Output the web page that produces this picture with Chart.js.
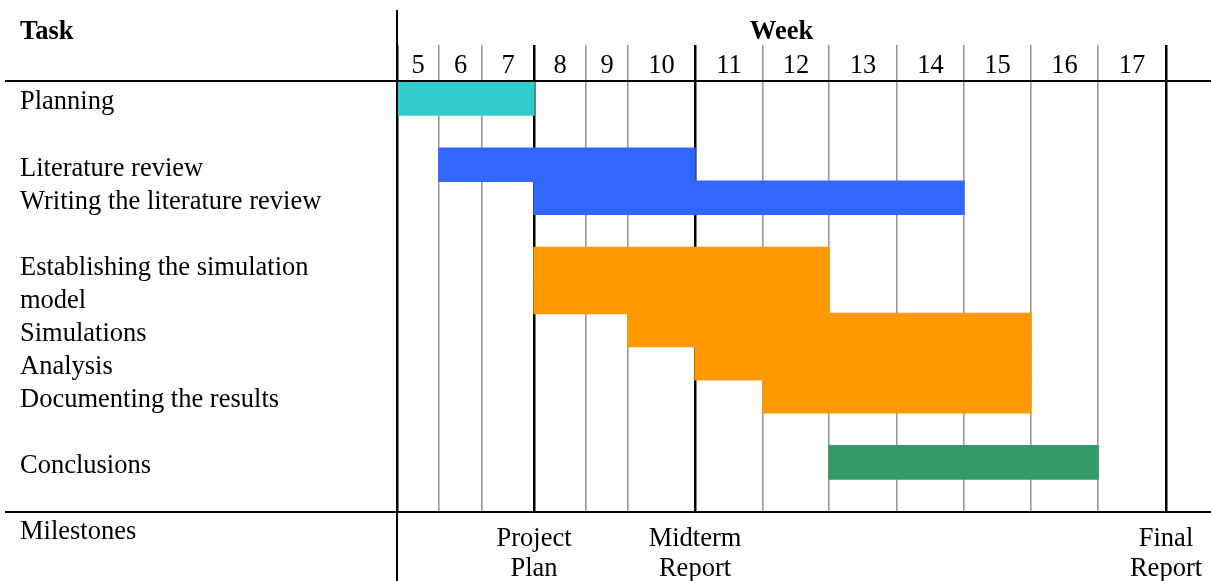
<!DOCTYPE html>
<html>
<head>
<meta charset="utf-8">
<title>Project schedule</title>
<script src="https://cdn.jsdelivr.net/npm/chart.js@4/dist/chart.umd.min.js"></script>
<style>
  html, body { margin: 0; padding: 0; background: #fff; }
  #wrap { width: 1211px; height: 581px; }
</style>
</head>
<body>
<div id="wrap"><canvas id="gantt"></canvas></div>
<script>
const weeks = [5, 6, 7, 8, 9, 10, 11, 12, 13, 14, 15, 16, 17];
const tasks = ['Planning', 'Literature review', 'Writing the literature review',
    ['Establishing the simulation', 'model'], 'Simulations', 'Analysis',
    'Documenting the results', 'Conclusions'];
const startWeek = [5, 6, 8, 8, 10, 11, 12, 13];
const endWeek = [7, 10, 14, 12, 15, 15, 15, 16];
const phase = ['Planning', 'Literature', 'Literature', 'Simulation', 'Simulation',
    'Simulation', 'Simulation', 'Conclusions'];
const milestoneWeek = [7, 10, 17];
const milestoneNames = [['Project', 'Plan'], ['Midterm', 'Report'], ['Final', 'Report']];

const phaseColors = {
    Planning: '#33cccc',
    Literature: '#3366ff',
    Simulation: '#ff9900',
    Conclusions: '#339966'
};
// the week columns of the original table are not all the same width
const colWidths = [42, 43, 52, 52, 42, 67, 68, 66, 68, 67, 67, 67, 68];
const totalWidth = colWidths.reduce((a, b) => a + b, 0);
const serif = "'Liberation Serif', 'Times New Roman', serif";
const fontSize = 26.5;
const textFont = { family: serif, size: fontSize };

// linear scale where every week gets its own column width
class WeekScale extends Chart.LinearScale {
    static id = 'week';
    static defaults = {};

    getPixelForValue(value) {
        if (value === null || value === undefined) return NaN;
        let rest = value - this.min;
        let acc = 0;
        for (let i = 0; i < colWidths.length && rest > 0; i++) {
            const part = Math.min(rest, 1);
            acc += part * colWidths[i];
            rest -= part;
        }
        return this.getPixelForDecimal(acc / totalWidth);
    }

    getValueForPixel(pixel) {
        let acc = this.getDecimalForPixel(pixel) * totalWidth;
        let value = this.min;
        for (let i = 0; i < colWidths.length; i++) {
            if (acc <= colWidths[i]) return value + acc / colWidths[i];
            acc -= colWidths[i];
            value += 1;
        }
        return value;
    }
}
Chart.register(WeekScale);

// one row per text line, with an empty row after each phase
const rowLabels = [];
const rowBars = [];
const rowColors = [];
function addBlank() {
    rowLabels.push('');
    rowBars.push(null);
    rowColors.push('rgba(0,0,0,0)');
}
tasks.forEach(function (name, i) {
    if (i > 0 && phase[i] !== phase[i - 1]) addBlank();
    const lines = Array.isArray(name) ? name : [name];
    lines.forEach(function (line) {
        rowLabels.push(line);
        rowBars.push([startWeek[i], endWeek[i] + 1]);
        rowColors.push(phaseColors[phase[i]]);
    });
});
addBlank();

const firstEdge = weeks[0];
const lastEdge = weeks[weeks.length - 1] + 1;
const milestoneEdges = milestoneWeek.map(w => w + 1);

function isStrong(ctx) {
    return ctx.tick && (ctx.tick.value === firstEdge || milestoneEdges.includes(ctx.tick.value));
}

// fixed box height, and no extra side padding asked for by the labels
function fixHeight(h) {
    return function (axis) {
        axis.height = h;
        axis.paddingLeft = 0;
        axis.paddingRight = 0;
    };
}

const tableRules = {
    id: 'tableRules',
    afterDraw(chart) {
        const { ctx, chartArea, width, height } = chart;
        ctx.save();
        ctx.strokeStyle = '#000';
        ctx.lineWidth = 2;
        ctx.beginPath();
        ctx.moveTo(5, chartArea.top - 1);
        ctx.lineTo(width, chartArea.top - 1);
        ctx.moveTo(5, chartArea.bottom);
        ctx.lineTo(width, chartArea.bottom);
        ctx.moveTo(chartArea.left, 10);
        ctx.lineTo(chartArea.left, height);
        ctx.stroke();
        ctx.fillStyle = '#000';
        ctx.textBaseline = 'middle';
        ctx.textAlign = 'left';
        ctx.font = 'bold ' + fontSize + 'px ' + serif;
        ctx.fillText('Task', 20, 32);
        ctx.font = fontSize + 'px ' + serif;
        ctx.fillText('Milestones', 20, 532);
        ctx.restore();
    }
};

document.addEventListener('DOMContentLoaded', function () {
    const ganttCtx = document.getElementById('gantt').getContext('2d');

    const ganttChart = new Chart(ganttCtx, {
        type: 'bar',
        data: {
            labels: rowLabels,
            datasets: [{
                data: rowBars,
                backgroundColor: rowColors,
                borderWidth: 0,
                inflateAmount: 0.75,
                barPercentage: 1,
                categoryPercentage: 1
            }]
        },
        options: {
            indexAxis: 'y',
            responsive: true,
            maintainAspectRatio: false,
            animation: false,
            layout: {
                padding: { left: 20, right: 45, top: 10, bottom: 0 }
            },
            plugins: {
                legend: { display: false },
                tooltip: { enabled: false }
            },
            scales: {
                x: {
                    type: 'week',
                    position: 'top',
                    min: firstEdge,
                    max: lastEdge,
                    z: 1,
                    afterBuildTicks: function (axis) {
                        axis.ticks = weeks.map(w => ({ value: w })).concat([{ value: lastEdge }]);
                    },
                    afterFit: fixHeight(0),
                    ticks: { display: false },
                    grid: {
                        color: ctx => isStrong(ctx) ? '#000' : '#999',
                        lineWidth: ctx => isStrong(ctx) ? 2.5 : 1.6,
                        drawTicks: true,
                        tickLength: 37
                    },
                    border: { display: false }
                },
                xWeek: {
                    type: 'week',
                    position: 'top',
                    weight: 1,
                    min: firstEdge,
                    max: lastEdge,
                    afterBuildTicks: function (axis) {
                        axis.ticks = weeks.map(w => ({ value: w + 0.5 }));
                    },
                    afterFit: fixHeight(72),
                    ticks: {
                        autoSkip: false,
                        maxRotation: 0,
                        padding: 0,
                        color: '#000',
                        font: textFont,
                        callback: (value, index) => String(weeks[index])
                    },
                    grid: { display: false, drawTicks: false },
                    border: { display: false },
                    title: {
                        display: true,
                        text: 'Week',
                        color: '#000',
                        font: { family: serif, size: fontSize, weight: 'bold' },
                        padding: { top: 6, bottom: 0 }
                    }
                },
                xMilestone: {
                    type: 'week',
                    position: 'bottom',
                    min: firstEdge,
                    max: lastEdge,
                    afterBuildTicks: function (axis) {
                        axis.ticks = milestoneEdges.map(v => ({ value: v }));
                    },
                    afterFit: fixHeight(69),
                    ticks: {
                        autoSkip: false,
                        maxRotation: 0,
                        padding: 12,
                        color: '#000',
                        font: { family: serif, size: fontSize, lineHeight: 30 / fontSize },
                        callback: (value, index) => milestoneNames[index]
                    },
                    grid: { display: false, drawTicks: false },
                    border: { display: false }
                },
                y: {
                    position: 'left',
                    afterFit: function (axis) { axis.width = 377; },
                    ticks: {
                        autoSkip: false,
                        crossAlign: 'far',
                        padding: 0,
                        labelOffset: 4,
                        color: '#000',
                        font: textFont
                    },
                    grid: { display: false, drawTicks: false },
                    border: { display: false }
                }
            }
        },
        plugins: [tableRules]
    });
});
</script>
</body>
</html>
